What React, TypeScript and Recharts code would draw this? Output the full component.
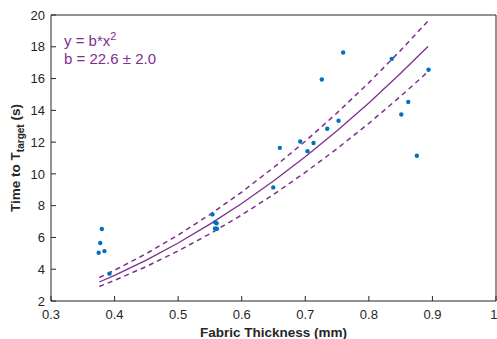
import React from 'react';
import { ComposedChart, Scatter, Line, XAxis, YAxis } from 'recharts';

// measured points (fabric thickness mm, time s)
const thickness = [0.375, 0.3775, 0.38, 0.384, 0.392, 0.554, 0.558, 0.5605, 0.558, 0.561, 0.6496, 0.66, 0.692, 0.7035, 0.713, 0.726, 0.7345, 0.7523, 0.7596, 0.836, 0.851, 0.862, 0.8755, 0.8939];
const time = [5.04, 5.65, 6.53, 5.14, 3.72, 7.45, 6.95, 6.89, 6.57, 6.55, 9.15, 11.64, 12.04, 11.43, 11.94, 15.94, 12.84, 13.34, 17.64, 17.24, 13.74, 14.53, 11.14, 16.55];

// fit y = b*x^2
const B = 22.6;
const B_ERR = 2.0;
const fitX = [0.376, 0.4, 0.45, 0.5, 0.55, 0.6, 0.65, 0.7, 0.75, 0.8, 0.85, 0.893];

const xTicks = [0.3, 0.4, 0.5, 0.6, 0.7, 0.8, 0.9, 1];
const yTicks = [2, 4, 6, 8, 10, 12, 14, 16, 18, 20];

const points = thickness.map((x, i) => ({ x, y: time[i] }));
const fit = fitX.map((x) => ({ x, y: B * x * x, hi: (B + B_ERR) * x * x, lo: (B - B_ERR) * x * x }));

const AXIS = '#262626';
const PURPLE = '#7E2F8E';
const FONT = '"Liberation Sans", Arial, sans-serif';

const tickStyle = { fill: AXIS, fontSize: 13, fontFamily: FONT };

const YLabel = (props: any) => {
  const vb = props.viewBox;
  const cy = vb.y + vb.height / 2;
  const x = 19.5;
  return (
    <text
      x={x}
      y={cy}
      transform={`rotate(-90 ${x} ${cy})`}
      textAnchor="middle"
      fill={AXIS}
      fontFamily={FONT}
      fontSize={13.5}
      fontWeight="bold"
    >
      Time to T<tspan fontSize={10} dy={4}>target</tspan>
      <tspan dy={-4}> (s)</tspan>
    </text>
  );
};

const Dot = (p: any) => <circle cx={p.cx} cy={p.cy} r={2.2} fill="#0072BD" />;

export default function App() {
  return (
    <div style={{ position: 'absolute', left: 0, top: 0, background: '#fff' }}>
      <ComposedChart width={497} height={339} margin={{ top: 14, right: 0, bottom: 0, left: 0 }}>
        <XAxis
          xAxisId="b"
          dataKey="x"
          type="number"
          domain={[0.3, 1]}
          ticks={xTicks}
          allowDataOverflow
          height={38}
          stroke={AXIS}
          tickSize={-5}
          tickMargin={14}
          tick={tickStyle}
          label={{ value: 'Fabric Thickness (mm)', position: 'insideBottom', offset: 2, fill: AXIS, fontSize: 13.5, fontWeight: 'bold', fontFamily: FONT }}
        />
        <XAxis
          xAxisId="t"
          orientation="top"
          dataKey="x"
          type="number"
          domain={[0.3, 1]}
          ticks={xTicks}
          height={1}
          stroke={AXIS}
          tickSize={-5}
          tickFormatter={() => ''}
        />
        <YAxis
          yAxisId="l"
          type="number"
          domain={[2, 20]}
          ticks={yTicks}
          allowDataOverflow
          width={51}
          stroke={AXIS}
          tickSize={-5}
          tickMargin={11}
          tick={tickStyle}
          label={<YLabel />}
        />
        <YAxis
          yAxisId="r"
          orientation="right"
          type="number"
          domain={[2, 20]}
          ticks={yTicks}
          width={1}
          stroke={AXIS}
          tickSize={-5}
          tickFormatter={() => ''}
        />
        <Line xAxisId="b" yAxisId="l" data={fit} dataKey="y" type="linear" stroke={PURPLE} strokeWidth={1.3} dot={false} isAnimationActive={false} />
        <Line xAxisId="b" yAxisId="l" data={fit} dataKey="hi" type="linear" stroke={PURPLE} strokeWidth={1.5} strokeDasharray="5 4" dot={false} isAnimationActive={false} />
        <Line xAxisId="b" yAxisId="l" data={fit} dataKey="lo" type="linear" stroke={PURPLE} strokeWidth={1.5} strokeDasharray="5 4" dot={false} isAnimationActive={false} />
        <Scatter xAxisId="b" yAxisId="l" data={points} dataKey="y" shape={<Dot />} isAnimationActive={false} />
        <text x={64} y={46} fill={PURPLE} fontFamily={FONT} fontSize={15}>
          y = b*x<tspan fontSize={11} dy={-6}>2</tspan>
        </text>
        <text x={64} y={64} fill={PURPLE} fontFamily={FONT} fontSize={15}>
          b = 22.6 ± 2.0
        </text>
      </ComposedChart>
    </div>
  );
}
